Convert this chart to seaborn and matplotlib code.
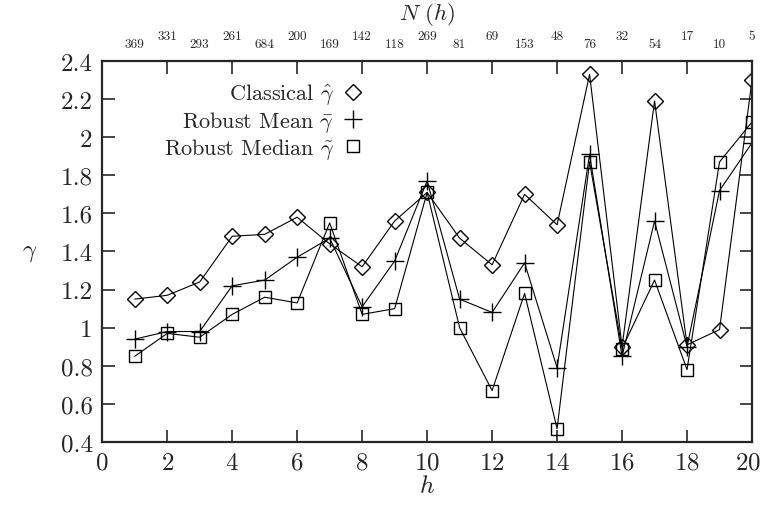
import numpy as np
import pandas as pd
import matplotlib
matplotlib.use("Agg")
import matplotlib.pyplot as plt
import matplotlib.transforms as mtransforms
from matplotlib.lines import Line2D
import seaborn as sns

# lag h, pair counts N(h) and the three variogram estimates
h = list(range(1, 21))
n_pairs = [369, 331, 293, 261, 684, 200, 169, 142, 118, 269,
           81, 69, 153, 48, 76, 32, 54, 17, 10, 5]
classical = [1.15, 1.17, 1.24, 1.48, 1.49, 1.58, 1.44, 1.32, 1.56, 1.71,
             1.47, 1.33, 1.70, 1.54, 2.33, 0.90, 2.19, 0.91, 0.99, 2.30]
robust_mean = [0.94, 0.98, 0.98, 1.22, 1.25, 1.37, 1.47, 1.11, 1.35, 1.77,
               1.15, 1.08, 1.34, 0.79, 1.91, 0.85, 1.56, 0.90, 1.72, 1.97]
robust_median = [0.85, 0.97, 0.95, 1.07, 1.16, 1.13, 1.55, 1.07, 1.10, 1.71,
                 1.00, 0.67, 1.18, 0.47, 1.87, 0.89, 1.25, 0.78, 1.87, 2.08]
x_ticks = list(range(0, 21, 2))
y_ticks = [0.4, 0.6, 0.8, 1.0, 1.2, 1.4, 1.6, 1.8, 2.0, 2.2, 2.4]
y_ticklabels = ["0.4", "0.6", "0.8", "1", "1.2", "1.4", "1.6", "1.8", "2", "2.2", "2.4"]

df = pd.DataFrame({"h": h, "classical": classical,
                   "mean": robust_mean, "median": robust_median})

sns.set_style("ticks")
plt.rcParams["font.family"] = ["cmr10", "DejaVu Serif"]
plt.rcParams["mathtext.fontset"] = "cm"
plt.rcParams["axes.formatter.use_mathtext"] = True

fig = plt.figure(figsize=(7.63, 5.06), dpi=100)
ax = fig.add_axes([0.134, 0.1245, 0.8516, 0.753])

series = [("classical", "D", 8.5, r"Classical $\hat{\gamma}$"),
          ("mean", "+", 13, r"Robust Mean $\bar{\gamma}$"),
          ("median", "s", 9.3, r"Robust Median $\tilde{\gamma}$")]
handles = []
for col, mk, ms, lab in series:
    sns.lineplot(data=df, x="h", y=col, ax=ax, color="black", linewidth=0.8,
                 marker=mk, markersize=ms, markerfacecolor="none",
                 markeredgecolor="black", markeredgewidth=1.0)
    handles.append(Line2D([], [], ls="none", marker=mk, markersize=ms,
                          markerfacecolor="none", markeredgecolor="black",
                          markeredgewidth=1.0, label=lab))

ax.set_xlim(0, 20)
ax.set_ylim(0.4, 2.4)
ax.set_xticks(x_ticks)
ax.set_yticks(y_ticks)
ax.set_yticklabels(y_ticklabels)
ax.tick_params(direction="in", length=9, width=1.2, labelsize=18,
               top=True, right=True, pad=7)
for s in ax.spines.values():
    s.set_linewidth(1.6)
    s.set_visible(True)

# nudge the last x label so it stays inside the canvas
last = ax.get_xticklabels()[-1]
last.set_transform(last.get_transform() +
                   mtransforms.ScaledTranslation(-3 / 72, 0, fig.dpi_scale_trans))

ax.set_xlabel(r"$h$", fontsize=18, labelpad=1)
ax.set_ylabel(r"$\gamma$", fontsize=18, rotation=0, labelpad=22, va="center")

# pair counts above the top axis, alternating heights
for hh, n in zip(h, n_pairs):
    off = 17 if hh % 2 == 1 else 25
    ax.annotate(str(n), xy=(hh, 1), xycoords=("data", "axes fraction"),
                xytext=(0, off * 0.72), textcoords="offset points",
                ha="center", va="center", fontsize=9.5)
ax.annotate(r"$N\ (h)$", xy=(0.5, 1), xycoords="axes fraction",
            xytext=(0, 34), textcoords="offset points",
            ha="center", va="center", fontsize=16.5)

ax.legend(handles=handles, loc="upper right", bbox_to_anchor=(0.403, 0.945),
          frameon=False, markerfirst=False, fontsize=16, handlelength=1.0,
          handletextpad=0.35, labelspacing=0.08, borderaxespad=0, borderpad=0)

fig.savefig("out.png", dpi=100)
